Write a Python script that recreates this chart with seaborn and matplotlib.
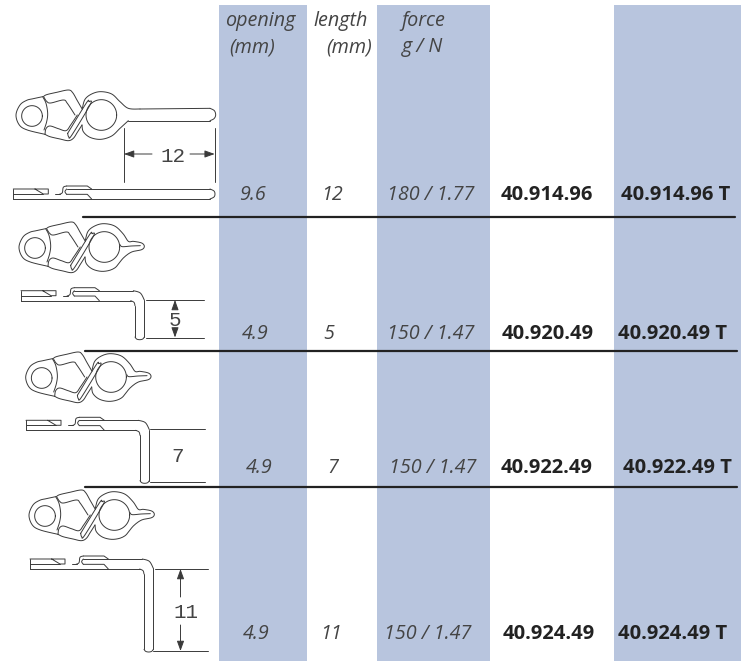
import matplotlib
matplotlib.use('Agg')
import matplotlib.pyplot as plt
import numpy as np
import pandas as pd
import seaborn as sns

# table values
opening = ['9.6', '4.9', '4.9', '4.9']
length = ['12', '5', '7', '11']
force = ['180 / 1.77', '150 / 1.47', '150 / 1.47', '150 / 1.47']
codes = ['40.914.96', '40.920.49', '40.922.49', '40.924.49']
codes_t = ['40.914.96 T', '40.920.49 T', '40.922.49 T', '40.924.49 T']

# layout, in pixels of the reference
row_y = [195, 334, 468, 634]
opening_x = [252, 255, 259, 256]
length_x = [332, 329, 333, 331]
force_x = [431, 431, 433, 428]
codes_x = [547, 548, 547, 549]
codes_t_x = [676, 673, 677, 673]
shade_left = [219, 377, 614]
shade_right = [307, 490, 741]
rule_y = [217, 351, 487]
rule_left = [83, 85, 85]
rule_right = [735, 737, 737]
clip_x = [32, 35, 41.7, 45]
clip_y = [116, 248, 378, 516]
side_x = [13.3, 21, 26, 30]
side_y = [199, 300.7, 430.3, 569]
leg_len = [0, 39, 53, 83]

INK = '#3a3a3a'
SHADE = '#B8C5DE'

sns.set_theme(style='white')
plt.rcParams['font.family'] = ['Open Sans', 'DejaVu Sans']

fig, ax = plt.subplots(figsize=(7.49, 6.61), dpi=100)
fig.subplots_adjust(0, 0, 1, 1)
ax.set_xlim(0, 749)
ax.set_ylim(661, 0)
ax.axis('off')


def smooth(points, steps=10):
    # catmull-rom through the outline points of the drawing
    p = np.array(points, dtype=float)
    p = np.vstack([p[0], p, p[-1]])
    out = []
    for i in range(1, len(p) - 2):
        for t in np.linspace(0, 1, steps, endpoint=False):
            out.append(0.5 * (2 * p[i] + (p[i + 1] - p[i - 1]) * t
                              + (2 * p[i - 1] - 5 * p[i] + 4 * p[i + 1] - p[i + 2]) * t ** 2
                              + (3 * p[i] - p[i - 1] - 3 * p[i + 1] + p[i + 2]) * t ** 3))
    out.append(p[-2])
    return np.array(out)


def stroke(points, ox, oy, x0, y0, curved=True):
    xy = smooth(points) if curved else np.array(points, dtype=float)
    ax.plot(ox + (xy[:, 0] - x0) / 3, oy + (xy[:, 1] - y0) / 3, color=INK, lw=0.7, solid_capstyle='round')


def circle(cx, cy, r):
    a = np.linspace(0, 2 * np.pi, 60)
    return np.column_stack([cx + r * np.cos(a), cy + r * np.sin(a)])


def top_view(ox, oy, long_tail):
    parts = [
        # loop round the small eye
        [(128, 50), (100, 56), (80, 61), (60, 75), (48, 105), (58, 135), (82, 150), (135, 163)],
        [(128, 50), (138, 70), (143, 100), (140, 125), (132, 150)],
        # upper sleeve
        [(130, 50), (140, 44), (170, 37), (205, 30), (218, 38), (232, 62), (247, 88)],
        [(132, 52), (140, 64), (152, 69), (190, 60), (202, 70), (225, 105)],
        # lower sleeve
        [(135, 163), (138, 146), (150, 138), (175, 146), (198, 152), (212, 135), (232, 105)],
        [(135, 163), (150, 170), (180, 177), (205, 182), (220, 175), (232, 157), (246, 135)],
        # crossing wires
        [(203, 160), (206, 170), (215, 166), (271, 73), (267, 65), (259, 69), (203, 160)],
    ]
    for part in parts:
        stroke(part, ox, oy, 96, 108)
    stroke(circle(96, 108, 31), ox, oy, 96, 108, curved=False)
    stroke(circle(304, 105, 46), ox, oy, 96, 108, curved=False)
    ring_top = [(247, 85), (255, 58), (275, 42), (302, 35), (335, 42), (360, 65)]
    ring_low = [(335, 168), (302, 178), (270, 172), (250, 155), (246, 135)]
    if long_tail:
        stroke(ring_top + [(385, 85), (420, 87)], ox, oy, 96, 108)
        stroke([(420, 87), (630, 85)], ox, oy, 96, 108, curved=False)
        stroke([(630, 85), (643, 92), (647, 105), (642, 116), (630, 122)], ox, oy, 96, 108)
        stroke([(630, 122), (385, 122)], ox, oy, 96, 108, curved=False)
        stroke([(385, 122), (360, 145)] + ring_low, ox, oy, 96, 108)
    else:
        stroke(ring_top + [(376, 88), (391, 88), (416, 93), (424, 103), (416, 113),
                           (386, 120), (361, 138)] + ring_low, ox, oy, 96, 108)
        stroke([(351, 98), (358, 104), (385, 102), (412, 101)], ox, oy, 96, 108)


def side_view(ox, oy, leg):
    straight = [
        [(40, 327), (40, 357)],
        [(40, 327), (145, 327), (145, 342), (130, 342), (105, 327)],
        [(40, 342), (130, 342)],
        [(165, 342), (180, 342)],
        [(200, 318), (262, 318), (275, 327)],
        [(200, 343), (262, 343), (275, 357)],
        [(200, 327), (275, 327)],
    ]
    for part in straight:
        stroke(part, ox, oy, 40, 357, curved=False)
    stroke([(178, 343), (187, 338), (190, 322), (200, 318)], ox, oy, 40, 357)
    stroke([(200, 327), (195, 335), (200, 343)], ox, oy, 40, 357)
    if leg == 0:
        stroke([(40, 357), (630, 357)], ox, oy, 40, 357, curved=False)
        stroke([(275, 327), (630, 327)], ox, oy, 40, 357, curved=False)
        stroke([(630, 327), (642, 333), (645, 342), (642, 351), (630, 357)], ox, oy, 40, 357)
    else:
        bottom = 357 + leg * 3
        stroke([(40, 357), (369, 357)], ox, oy, 40, 357, curved=False)
        stroke([(275, 327), (377, 327)], ox, oy, 40, 357, curved=False)
        stroke([(377, 327), (398, 334), (410, 355)], ox, oy, 40, 357)
        stroke([(410, 355), (410, bottom - 8)], ox, oy, 40, 357, curved=False)
        stroke([(410, bottom - 8), (405, bottom - 2), (396, bottom), (387, bottom - 2), (382, bottom - 8)],
               ox, oy, 40, 357)
        stroke([(382, bottom - 8), (382, 372)], ox, oy, 40, 357, curved=False)
        stroke([(382, 372), (379, 362), (369, 357)], ox, oy, 40, 357)


def dim_arrow(x0, y0, x1, y1):
    ax.annotate('', xy=(x1, y1), xytext=(x0, y0),
                arrowprops=dict(arrowstyle='-|>,head_length=0.5,head_width=0.18', color=INK,
                                lw=0.7, shrinkA=0, shrinkB=0))


# shaded columns
for left, right in zip(shade_left, shade_right):
    ax.axvspan(left, right, ymin=0, ymax=1 - 5 / 661, color=SHADE, lw=0, zorder=0)

# black rules between rows
rules = pd.DataFrame({
    'x': rule_left + rule_right,
    'y': rule_y + rule_y,
    'rule': [0, 1, 2, 0, 1, 2],
})
sns.lineplot(data=rules, x='x', y='y', units='rule', estimator=None, color='#222222', lw=1.6, ax=ax, zorder=3)
ax.set_xlim(0, 749)
ax.set_ylim(661, 0)

# header
head = dict(fontsize=14.2, style='italic', color='#444444', ha='center', va='center')
ax.text(260, 21, 'opening', **head)
ax.text(252, 47, '(mm)', **head)
ax.text(341, 21, 'length', **head)
ax.text(349, 47, '(mm)', **head)
ax.text(423, 21, 'force', **head)
ax.text(423, 47, 'g / N', **head)

# rows
for i in range(4):
    y = row_y[i]
    for x, label in [(opening_x[i], opening[i]), (length_x[i], length[i]), (force_x[i], force[i])]:
        ax.text(x, y, label, **head)
    for x, label in [(codes_x[i], codes[i]), (codes_t_x[i], codes_t[i])]:
        ax.text(x, y, label, fontsize=14.5, fontweight='bold', color='#222222', ha='center', va='center')
    top_view(clip_x[i], clip_y[i], i == 0)
    side_view(side_x[i], side_y[i], leg_len[i])

# dimension marks
mono = dict(family='Liberation Mono', fontsize=15, color='#444444', ha='center', va='center')
dim = dict(color=INK, lw=0.7)
ax.plot([124, 124], [128, 182], **dim)
ax.plot([214.7, 214.7], [128, 182], **dim)
dim_arrow(152, 154, 124, 154)
dim_arrow(190, 154, 214.7, 154)
ax.text(173, 156, length[0], **mono)

ax.plot([146, 204], [300, 300], **dim)
ax.plot([146, 204], [337.5, 337.5], **dim)
dim_arrow(175, 309, 175, 300)
dim_arrow(175, 328, 175, 337.5)
ax.text(175, 320, length[1], **mono)

ax.plot([150, 205], [429.3, 429.3], **dim)
ax.plot([150, 205], [481.7, 481.7], **dim)
ax.text(178, 456, length[2], **mono)

ax.plot([155, 208], [569, 569], **dim)
ax.plot([153, 208], [651, 651], **dim)
dim_arrow(180.5, 597, 180.5, 569)
dim_arrow(180.5, 625, 180.5, 651)
ax.text(186, 613, length[3], **mono)

fig.savefig('out.png', dpi=100)
